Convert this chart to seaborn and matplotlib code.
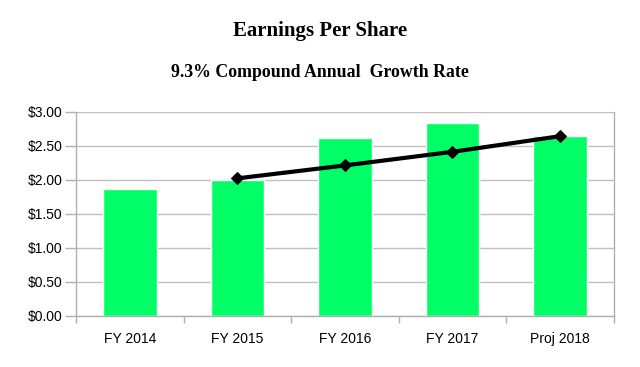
import matplotlib
matplotlib.use("Agg")
import matplotlib.pyplot as plt
import seaborn as sns
import pandas as pd
import numpy as np
from matplotlib.ticker import FixedLocator, FuncFormatter

categories = ["FY 2014", "FY 2015", "FY 2016", "FY 2017", "Proj 2018"]
eps = [1.86, 2.00, 2.62, 2.84, 2.65]
trend_cats = ["FY 2015", "FY 2016", "FY 2017", "Proj 2018"]
trend_vals = [2.02, 2.21, 2.41, 2.64]
yticks = [0.0, 0.5, 1.0, 1.5, 2.0, 2.5, 3.0]

sns.set_theme(style="white")
plt.rcParams['font.family'] = ['Liberation Sans', 'DejaVu Sans']
plt.rcParams['text.color'] = 'black'

fig = plt.figure(figsize=(6.4, 3.67), dpi=100)
ax = fig.add_axes([0.119, 0.1398, 0.840, 0.5558])

df = pd.DataFrame({"cat": categories, "eps": eps})
sns.barplot(data=df, x="cat", y="eps", order=categories, color="#00FF66",
            saturation=1, width=0.5, ax=ax, zorder=2)

pos = [categories.index(c) for c in trend_cats]
tdf = pd.DataFrame({"x": pos, "y": trend_vals})
sns.lineplot(data=tdf, x="x", y="y", color="black", linewidth=3,
             marker="D", markersize=6, markeredgecolor="black", ax=ax, zorder=3)

ax.set_xlim(-0.5, len(categories) - 0.5)
ax.set_ylim(0, 3.0)
ax.yaxis.set_major_locator(FixedLocator(yticks))
ax.yaxis.set_major_formatter(FuncFormatter(lambda v, p: f"${v:.2f}"))
ax.grid(axis="y", color="#c0c0c0", linewidth=1, zorder=0)
ax.set_axisbelow(True)

ax.set_xticks(range(len(categories)))
ax.set_xticklabels(categories)
ax.xaxis.set_minor_locator(FixedLocator([i - 0.5 for i in range(len(categories) + 1)]))
ax.tick_params(axis="x", which="major", length=0, pad=12, labelsize=10, labelcolor="black")
ax.tick_params(axis="x", which="minor", length=5, color="#b0b0b0", width=1, bottom=True)
ax.tick_params(axis="y", which="major", length=8, color="#b0b0b0", width=1, left=True,
               labelsize=10, labelcolor="black", pad=2)

for s in ["left", "right", "bottom", "top"]:
    ax.spines[s].set_color("#b0b0b0")
    ax.spines[s].set_linewidth(1)
ax.spines["top"].set_visible(False)

ax.set_xlabel("")
ax.set_ylabel("")

fig.text(0.5, 0.915, "Earnings Per Share", ha="center", va="center", color="black",
         fontsize=15, fontweight="bold", family=["Liberation Serif", "DejaVu Serif"])
fig.text(0.5, 0.803, "9.3% Compound Annual  Growth Rate", ha="center", va="center", color="black",
         fontsize=12.8, fontweight="bold", family=["Liberation Serif", "DejaVu Serif"])

fig.savefig("out.png", dpi=100, facecolor="white")
